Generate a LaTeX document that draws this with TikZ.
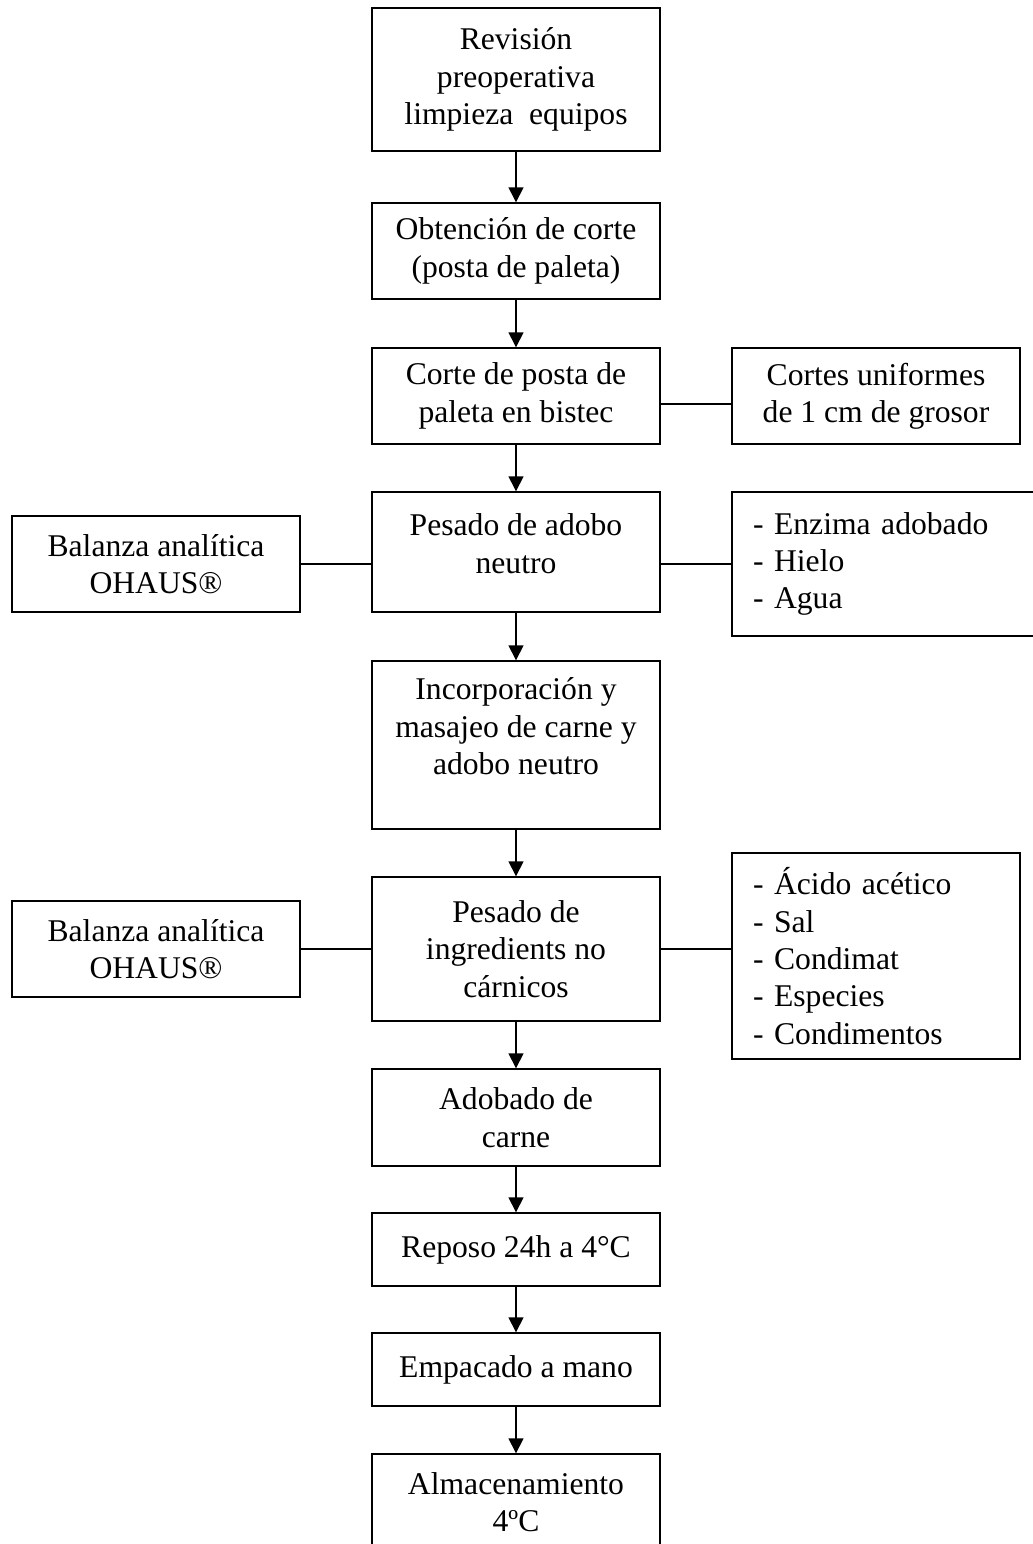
\documentclass[tikz,border=0pt]{standalone}
\usepackage{fontspec}
\setmainfont{Liberation Serif}
\usetikzlibrary{arrows.meta}
\begin{document}
\begin{tikzpicture}[x=0.02cm,y=-0.02cm,line width=0.8pt,
    caja/.style={draw,minimum width=5.76cm,align=center,font=\fontsize{18}{21.3}\selectfont},
    lista/.style={caja,align=left,inner xsep=0.42cm},
    flecha/.style={-{Triangle[length=0.3cm,width=0.3cm]}}]
\useasboundingbox (0,0) rectangle (1033,1544);

% proceso principal
\node[caja,minimum height=2.86cm] (revision) at (516,79.5) {Revisión\\preoperativa\\limpieza~ equipos};
\node[caja,minimum height=1.92cm] (obtencion) at (516,251) {Obtención de corte\\(posta de paleta)};
\node[caja,minimum height=1.92cm] (corte) at (516,396) {Corte de posta de\\paleta en bistec};
\node[caja,minimum height=2.4cm] (pesadoA) at (516,552) {Pesado de adobo\\neutro\\[-0.55\baselineskip]\mbox{}};
\node[caja,minimum height=3.36cm] (incorp) at (516,745) {Incorporación y\\masajeo de carne y\\adobo neutro\\ \mbox{}};
\node[caja,minimum height=2.88cm] (pesadoI) at (516,949) {Pesado de\\ingredients no\\cárnicos};
\node[caja,minimum height=1.94cm] (adobado) at (516,1117.5) {Adobado de\\carne};
\node[caja,minimum height=1.46cm] (reposo) at (516,1249.5) {Reposo 24h a 4°C};
\node[caja,minimum height=1.46cm] (empacado) at (516,1369.5) {Empacado a mano};
\node[caja,minimum height=1.92cm] (almacen) at (516,1502) {Almacenamiento\\4ºC};

% cajas laterales
\node[caja,minimum height=1.92cm] (cortes) at (876,396) {Cortes uniformes\\de 1 cm de grosor};
\node[caja,minimum height=1.92cm] (balanzaA) at (156,564) {Balanza analítica\\OHAUS®};
\node[lista,text width=5.4cm,minimum height=2.88cm] (listaA) at (888,564) {- Enzima adobado\\- Hielo\\- Agua};
\node[caja,minimum height=1.92cm] (balanzaI) at (156,949) {Balanza analítica\\OHAUS®};
\node[lista,text width=4.92cm,minimum height=4.12cm] (listaI) at (876,956) {- Ácido acético\\- Sal\\- Condimat\\- Especies\\- Condimentos};

\foreach \a/\b in {revision/obtencion,obtencion/corte,corte/pesadoA,pesadoA/incorp,
    incorp/pesadoI,pesadoI/adobado,adobado/reposo,reposo/empacado,empacado/almacen}
  \draw[flecha] (\a.south) -- (\b.north);

\draw ([yshift=-0.16cm]corte.east) -- ([yshift=-0.16cm]cortes.west);
\draw (balanzaA.east) -- (balanzaA.east -| pesadoA.west);
\draw (pesadoA.east |- listaA.west) -- (listaA.west);
\draw (balanzaI.east) -- (pesadoI.west);
\draw (pesadoI.east) -- (pesadoI.east -| listaI.west);
\end{tikzpicture}
\end{document}
